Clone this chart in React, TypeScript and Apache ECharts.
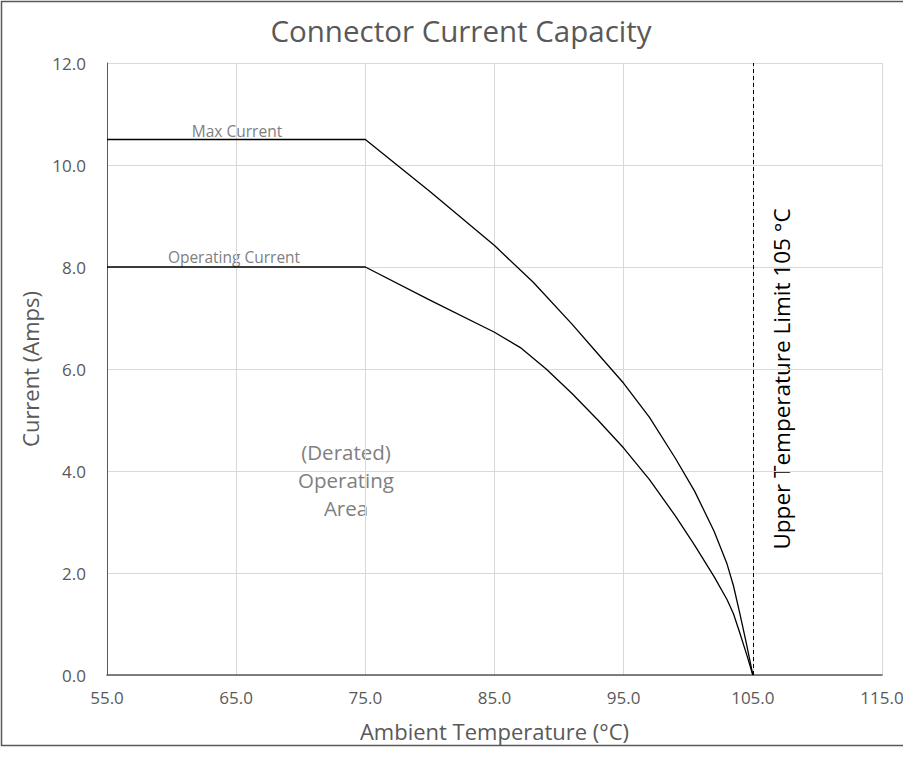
import React, { useEffect, useRef } from "react";
import * as echarts from "echarts";

const maxCurrentX = [55, 75, 80, 85, 88, 91, 93, 95, 97, 99, 100.5, 102, 103, 103.5, 104, 104.5, 105];
const maxCurrentY = [10.5, 10.5, 9.48, 8.42, 7.7, 6.88, 6.3, 5.72, 5.05, 4.25, 3.6, 2.82, 2.18, 1.75, 1.2, 0.62, 0];
const opCurrentX = [55, 75, 80, 85, 87, 89, 91, 93, 95, 97, 99, 100.5, 102, 103, 103.5, 104, 104.5, 105];
const opCurrentY = [8, 8, 7.35, 6.72, 6.42, 6.0, 5.52, 5.0, 4.45, 3.83, 3.12, 2.54, 1.93, 1.48, 1.2, 0.82, 0.42, 0];
const limitTemp = 105;

const FONT = "'Open Sans', 'DejaVu Sans', sans-serif";

export default function App() {
  const ref = useRef<HTMLDivElement>(null);
  useEffect(() => {
    const chart = echarts.init(ref.current!, null, { renderer: "svg" });
    chart.setOption({
      animation: false,
      backgroundColor: "#ffffff",
      textStyle: { fontFamily: FONT },
      title: {
        text: "Connector Current Capacity",
        left: 456,
        top: 10,
        textAlign: "center",
        textStyle: { fontFamily: FONT, fontSize: 29.5, fontWeight: "normal", color: "#595959" },
      },
      grid: { left: 107, right: 21, top: 63, bottom: 82, outerBoundsMode: "none", containLabel: false },
      xAxis: {
        type: "value",
        min: 55,
        max: 115,
        interval: 10,
        name: "Ambient Temperature (°C)",
        nameLocation: "middle",
        nameGap: 45,
        nameTextStyle: { fontFamily: FONT, fontSize: 22, color: "#595959" },
        axisLine: { show: true, lineStyle: { color: "#595959", width: 1.5 } },
        axisTick: { show: false },
        axisLabel: {
          fontFamily: FONT,
          fontSize: 17,
          color: "#595959",
          margin: 14,
          formatter: (v: number) => v.toFixed(1),
        },
        splitLine: { show: true, lineStyle: { color: "#d9d9d9", width: 1 } },
      },
      yAxis: {
        type: "value",
        min: 0,
        max: 12,
        interval: 2,
        name: "Current (Amps)",
        nameLocation: "middle",
        nameGap: 61,
        nameTextStyle: { fontFamily: FONT, fontSize: 22, color: "#595959" },
        axisLine: { show: true, lineStyle: { color: "#595959", width: 1 } },
        axisTick: { show: false },
        axisLabel: {
          fontFamily: FONT,
          fontSize: 17,
          color: "#595959",
          margin: 21,
          formatter: (v: number) => v.toFixed(1),
        },
        splitLine: { show: true, lineStyle: { color: "#d9d9d9", width: 1 } },
      },
      series: [
        {
          name: "Max Current",
          type: "line",
          data: maxCurrentX.map((x, i) => [x, maxCurrentY[i]]),
          showSymbol: false,
          lineStyle: { color: "#000000", width: 1.3 },
          markLine: {
            silent: true,
            symbol: ["none", "none"],
            label: { show: false },
            lineStyle: { color: "#000000", type: [4, 3], width: 1 },
            data: [{ xAxis: limitTemp }],
          },
        },
        {
          name: "Operating Current",
          type: "line",
          data: opCurrentX.map((x, i) => [x, opCurrentY[i]]),
          showSymbol: false,
          lineStyle: { color: "#000000", width: 1.3 },
        },
      ],
      graphic: [
        {
          type: "rect",
          shape: { x: 1.5, y: 1.5, width: 1000, height: 744 },
          style: { fill: "none", stroke: "#595959", lineWidth: 1.5 },
          silent: true,
        },
        {
          type: "text",
          x: 237,
          y: 131,
          style: { text: "Max Current", fontFamily: FONT, fontSize: 15.5, fill: "#7f7f7f", align: "center", verticalAlign: "middle" },
        },
        {
          type: "text",
          x: 234,
          y: 257,
          style: { text: "Operating Current", fontFamily: FONT, fontSize: 15.5, fill: "#7f7f7f", align: "center", verticalAlign: "middle" },
        },
        {
          type: "text",
          x: 346,
          y: 480,
          style: {
            text: "(Derated)\nOperating\nArea",
            fontFamily: FONT,
            fontSize: 20.5,
            lineHeight: 28,
            fill: "#808080",
            align: "center",
            verticalAlign: "middle",
          },
        },
        {
          type: "text",
          x: 781,
          y: 379,
          rotation: Math.PI / 2,
          style: {
            text: "Upper Temperature Limit 105 °C",
            fontFamily: FONT,
            fontSize: 22.5,
            fill: "#000000",
            align: "center",
            verticalAlign: "middle",
          },
        },
      ],
    });
    return () => chart.dispose();
  }, []);
  return (
    <div
      ref={ref}
      style={{ position: "fixed", left: 0, top: 0, width: 903, height: 757 }}
    />
  );
}
